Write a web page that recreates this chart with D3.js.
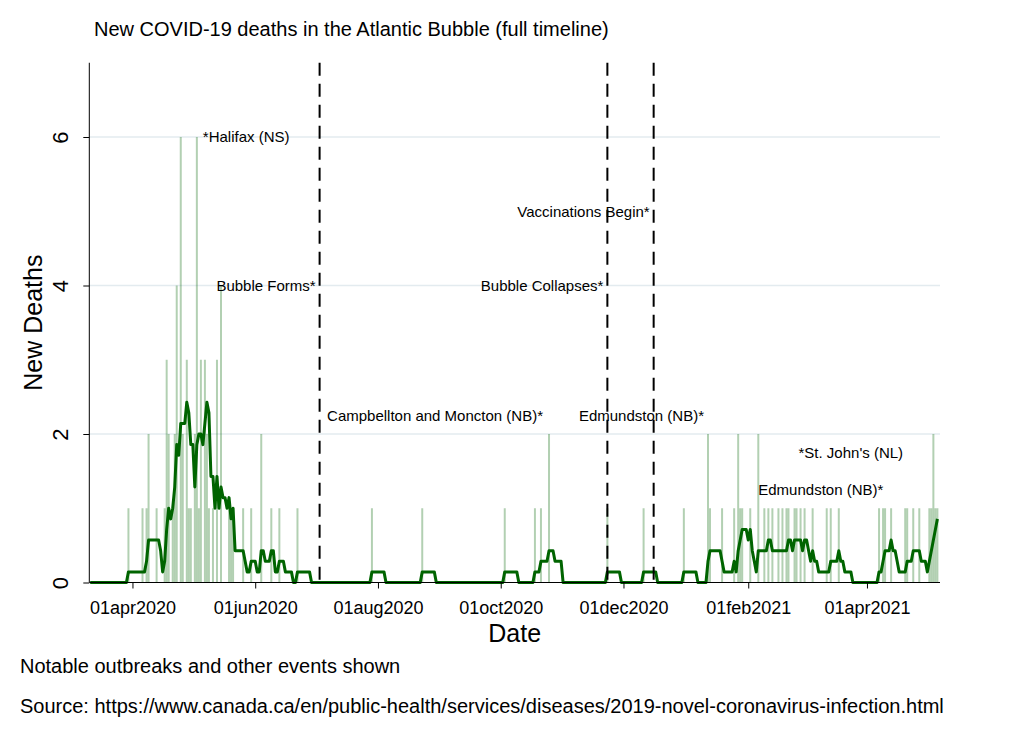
<!DOCTYPE html>
<html>
<head>
<meta charset="utf-8">
<script src="https://cdn.jsdelivr.net/npm/d3@7"></script>
<style>
  body { margin: 0; background: #ffffff; }
  text { font-family: "Liberation Sans", Arial, sans-serif; fill: #000; }
</style>
</head>
<body>
<svg id="chart" width="1013" height="737"></svg>
<script>
// ---------------- DATA ----------------
const seriesStart = "2020-03-11";
const seriesEnd = "2021-05-06";

// days with reported deaths (all other days in the range: 0)
const deathDates = [
  "2020-03-30","2020-04-06","2020-04-08","2020-04-09","2020-04-13","2020-04-17","2020-04-18","2020-04-19",
  "2020-04-21","2020-04-22","2020-04-23","2020-04-25","2020-04-26","2020-04-28","2020-04-29","2020-04-30",
  "2020-05-02","2020-05-03","2020-05-04","2020-05-05","2020-05-07","2020-05-08","2020-05-09","2020-05-11",
  "2020-05-13","2020-05-15","2020-05-19","2020-05-20","2020-05-21","2020-05-26","2020-05-30","2020-06-04",
  "2020-06-09","2020-06-13","2020-06-22","2020-07-29","2020-08-23","2020-10-03","2020-10-18","2020-10-21",
  "2020-10-25","2020-11-23","2020-12-11","2020-12-31","2021-01-12","2021-01-13","2021-01-19","2021-01-25",
  "2021-01-27","2021-01-28","2021-01-29","2021-02-02","2021-02-06","2021-02-09","2021-02-11","2021-02-13",
  "2021-02-16","2021-02-18","2021-02-20","2021-02-21","2021-02-24","2021-02-25","2021-02-27","2021-03-01",
  "2021-03-05","2021-03-12","2021-03-14","2021-03-18","2021-04-07","2021-04-09","2021-04-10","2021-04-13",
  "2021-04-20","2021-04-21","2021-04-24","2021-04-27","2021-05-02","2021-05-03","2021-05-04","2021-05-05",
  "2021-05-06"
];
const deathCounts = [
  1,1,1,2,1,1,3,2,
  1,2,4,6,2,3,1,1,
  2,6,1,3,3,2,1,1,
  3,4,1,1,1,1,1,2,
  1,1,1,1,1,1,1,1,
  2,1,1,1,2,1,1,1,
  2,1,1,1,2,1,1,1,
  1,1,1,1,1,1,1,1,
  1,1,1,1,1,1,1,1,
  1,1,1,1,1,1,2,1,
  1
];

const eventDates = ["2020-07-03", "2020-11-23", "2020-12-16"];

const annotationLabels = ["*Halifax (NS)", "Bubble Forms*", "Campbellton and Moncton (NB)*", "Bubble Collapses*",
                          "Vaccinations Begin*", "Edmundston (NB)*", "*St. John's (NL)", "Edmundston (NB)*"];
const annotationDates  = ["2020-05-04", "2020-07-03", "2020-10-24", "2020-11-23",
                          "2020-12-16", "2021-01-12", "2021-02-24", "2021-02-04"];
const annotationValues = [6, 4, 2.25, 4, 5, 2.25, 1.75, 1.25];
const annotationSides  = ["start", "end", "end", "end", "end", "end", "start", "start"];

const xTickDates  = ["2020-04-01","2020-06-01","2020-08-01","2020-10-01","2020-12-01","2021-02-01","2021-04-01"];
const xTickLabels = ["01apr2020","01jun2020","01aug2020","01oct2020","01dec2020","01feb2021","01apr2021"];
const yTickValues = [0, 2, 4, 6];

const titleText  = "New COVID-19 deaths in the Atlantic Bubble (full timeline)";
const xTitleText = "Date";
const yTitleText = "New Deaths";
const noteText   = "Notable outbreaks and other events shown";
const sourceText = "Source: https://www.canada.ca/en/public-health/services/diseases/2019-novel-coronavirus-infection.html";

// ---------------- BUILD ----------------
const parse = d3.utcParse("%Y-%m-%d");
const fmt = d3.utcFormat("%Y-%m-%d");
const days = d3.utcDay.range(parse(seriesStart), d3.utcDay.offset(parse(seriesEnd), 1));
const countByDay = new Map(deathDates.map((d, i) => [d, deathCounts[i]]));
const daily = days.map(d => ({ date: d, value: countByDay.get(fmt(d)) || 0 }));
// 7-day trailing moving average of the daily series
const avg7 = daily.map((d, i) => ({
  date: d.date,
  value: d3.mean(daily.slice(Math.max(0, i - 6), i + 1), e => e.value)
}));

const svg = d3.select("#chart");
const plotLeft = 89.3, plotRight = 940, plotTop = 62.75, plotBottom = 582.5;

const x = d3.scaleUtc()
  .domain([parse(seriesStart), parse(seriesEnd)])
  .range([90.2, 937.4]);
const y = d3.scaleLinear().domain([0, 7]).range([plotBottom, plotTop]);

// gridlines
svg.append("g").selectAll("line")
  .data(yTickValues.filter(v => v > 0))
  .join("line")
  .attr("x1", plotLeft).attr("x2", plotRight)
  .attr("y1", d => y(d)).attr("y2", d => y(d))
  .attr("stroke", "#e3ebef").attr("stroke-width", 1.5);

// daily bars
svg.append("g").selectAll("rect")
  .data(daily.filter(d => d.value > 0))
  .join("rect")
  .attr("x", d => x(d.date) - 1)
  .attr("width", 2)
  .attr("y", d => y(d.value))
  .attr("height", d => y(0) - y(d.value))
  .attr("fill", "#006400")
  .attr("fill-opacity", 0.3);

// moving average line
svg.append("path")
  .datum(avg7)
  .attr("fill", "none")
  .attr("stroke", "#006400")
  .attr("stroke-width", 3)
  .attr("stroke-linejoin", "round")
  .attr("d", d3.line().x(d => x(d.date)).y(d => y(d.value)));

// event lines
svg.append("g").selectAll("line")
  .data(eventDates)
  .join("line")
  .attr("x1", d => x(parse(d))).attr("x2", d => x(parse(d)))
  .attr("y1", plotTop).attr("y2", plotBottom)
  .attr("stroke", "#000").attr("stroke-width", 2)
  .attr("stroke-dasharray", "13,8");

// annotations
svg.append("g").selectAll("text")
  .data(annotationLabels.map((t, i) => ({ t, date: parse(annotationDates[i]), v: annotationValues[i], side: annotationSides[i] })))
  .join("text")
  .attr("x", d => x(d.date) + (d.side === "start" ? 4 : -4))
  .attr("y", d => y(d.v))
  .attr("dy", "0.35em")
  .attr("text-anchor", d => d.side)
  .style("font-size", "15px")
  .text(d => d.t);

// x axis
const xAxis = d3.axisBottom(x)
  .tickValues(xTickDates.map(parse))
  .tickFormat((d, i) => xTickLabels[i])
  .tickSize(6).tickSizeOuter(0);
const gx = svg.append("g").attr("transform", `translate(0,${plotBottom})`).call(xAxis);
gx.select(".domain").remove();
gx.selectAll(".tick line").attr("stroke", "#000");
gx.selectAll(".tick text").attr("y", 19).attr("dy", "0.71em").style("font-size", "18px").style("font-family", "Liberation Sans, Arial, sans-serif");
svg.append("line").attr("x1", plotLeft).attr("x2", plotRight).attr("y1", plotBottom).attr("y2", plotBottom)
  .attr("stroke", "#000").attr("stroke-width", 1);

// y axis
const yAxis = d3.axisLeft(y).tickValues(yTickValues).tickFormat(d3.format("d")).tickSize(6).tickSizeOuter(0);
const gy = svg.append("g").attr("transform", `translate(${plotLeft},0)`).call(yAxis);
gy.select(".domain").remove();
gy.selectAll(".tick text")
  .attr("x", null).attr("dy", null)
  .attr("transform", "translate(-21,0) rotate(-90)")
  .attr("text-anchor", "middle")
  .style("font-size", "22px").style("font-family", "Liberation Sans, Arial, sans-serif");
svg.append("line").attr("x1", plotLeft).attr("x2", plotLeft).attr("y1", plotTop).attr("y2", plotBottom)
  .attr("stroke", "#000").attr("stroke-width", 1);

// titles
svg.append("text").attr("x", 94).attr("y", 36).style("font-size", "20px").text(titleText);
svg.append("text").attr("x", (plotLeft + plotRight) / 2).attr("y", 642).attr("text-anchor", "middle")
  .style("font-size", "25px").text(xTitleText);
svg.append("text").attr("transform", `translate(42,${(plotTop + plotBottom) / 2}) rotate(-90)`)
  .attr("text-anchor", "middle").style("font-size", "25px").text(yTitleText);
svg.append("text").attr("x", 20).attr("y", 673).style("font-size", "20px").text(noteText);
svg.append("text").attr("x", 20).attr("y", 713).style("font-size", "20px").text(sourceText);
</script>
</body>
</html>
